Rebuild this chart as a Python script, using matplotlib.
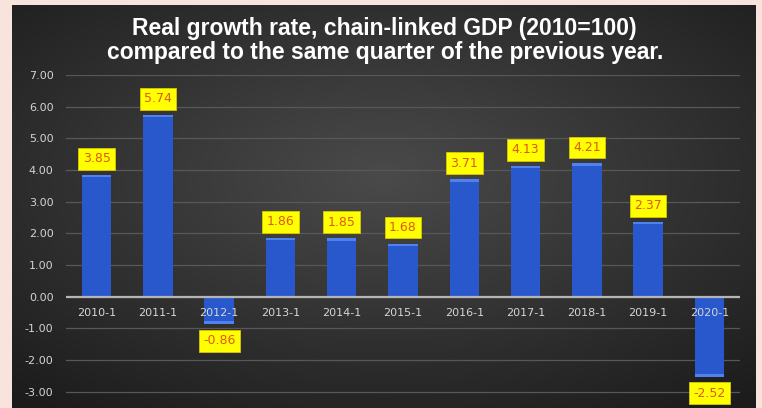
import numpy as np
import matplotlib.pyplot as plt
from matplotlib.colors import LinearSegmentedColormap

quarters = ["2010-1", "2011-1", "2012-1", "2013-1", "2014-1", "2015-1",
            "2016-1", "2017-1", "2018-1", "2019-1", "2020-1"]
growth = [3.85, 5.74, -0.86, 1.86, 1.85, 1.68, 3.71, 4.13, 4.21, 2.37, -2.52]
y_ticks = [7, 6, 5, 4, 3, 2, 1, 0, -1, -2, -3]

fig = plt.figure(figsize=(7.62, 4.08), dpi=100)
fig.patch.set_facecolor("#f9e4dd")

# dark panel with a soft radial gradient
bg = fig.add_axes([12 / 762, 0, 744 / 762, 1 - 5 / 408], zorder=-1)
yy, xx = np.mgrid[-1:1:200j, -1:1:400j]
r = np.sqrt((xx * 0.85) ** 2 + ((yy - 0.15) * 0.9) ** 2)
panel_cmap = LinearSegmentedColormap.from_list("panel", ["#4a4a4a", "#333333", "#1c1c1c"])
bg.imshow(r, cmap=panel_cmap, vmin=0, vmax=1.3, aspect="auto",
          extent=[0, 1, 0, 1], origin="lower")
bg.set_axis_off()

ax = fig.add_axes([66 / 762, 1 - 406 / 408, 674 / 762, (406 - 75) / 408])
ax.set_facecolor("none")
x = np.arange(len(quarters))
ax.bar(x, growth, width=0.48, color="#2858cc", zorder=2)
# lighter cap on the end of each bar
cap = 0.08
ax.bar(x, np.sign(growth) * cap, bottom=np.array(growth) - np.sign(growth) * cap,
       width=0.48, color="#4f82ee", zorder=2.1)

ax.set_xlim(-0.5, len(quarters) - 0.5)
ax.set_ylim(-3.45, 7)
ax.set_yticks(y_ticks)
ax.set_yticklabels([f"{v:.2f}" for v in y_ticks])
ax.tick_params(axis="y", length=0, pad=9, labelsize=8, labelcolor="#d4d4d4")
ax.set_xticks([])
ax.grid(axis="y", color="#585858", linewidth=0.9)
ax.set_axisbelow(True)
for s in ax.spines.values():
    s.set_visible(False)
ax.axhline(0, color="#b5b5b5", linewidth=1.6, zorder=3)

for i, q in enumerate(quarters):
    ax.annotate(q, (i, 0), xytext=(0, -12), textcoords="offset points",
                ha="center", va="center", fontsize=8, color="#d6d6d6", zorder=5)

for i, v in enumerate(growth):
    off = 11.5 if v >= 0 else -12
    ax.annotate(f"{v:.2f}", (i, v), xytext=(0, off), textcoords="offset points",
                ha="center", va="center", fontsize=9, color="#e2561a",
                zorder=6,
                bbox=dict(boxstyle="square,pad=0.35", fc="#ffff00", ec="#d8c800", lw=0.6))

fig.text(0.505, 1 - 35 / 408, "Real growth rate, chain-linked GDP (2010=100)",
         ha="center", va="baseline", color="white", fontsize=16.5,
         fontweight="bold", family="Liberation Sans")
fig.text(0.505, 1 - 59 / 408, "compared to the same quarter of the previous year.",
         ha="center", va="baseline", color="white", fontsize=16.5,
         fontweight="bold", family="Liberation Sans")

fig.savefig("out.png", dpi=100, facecolor=fig.get_facecolor())
